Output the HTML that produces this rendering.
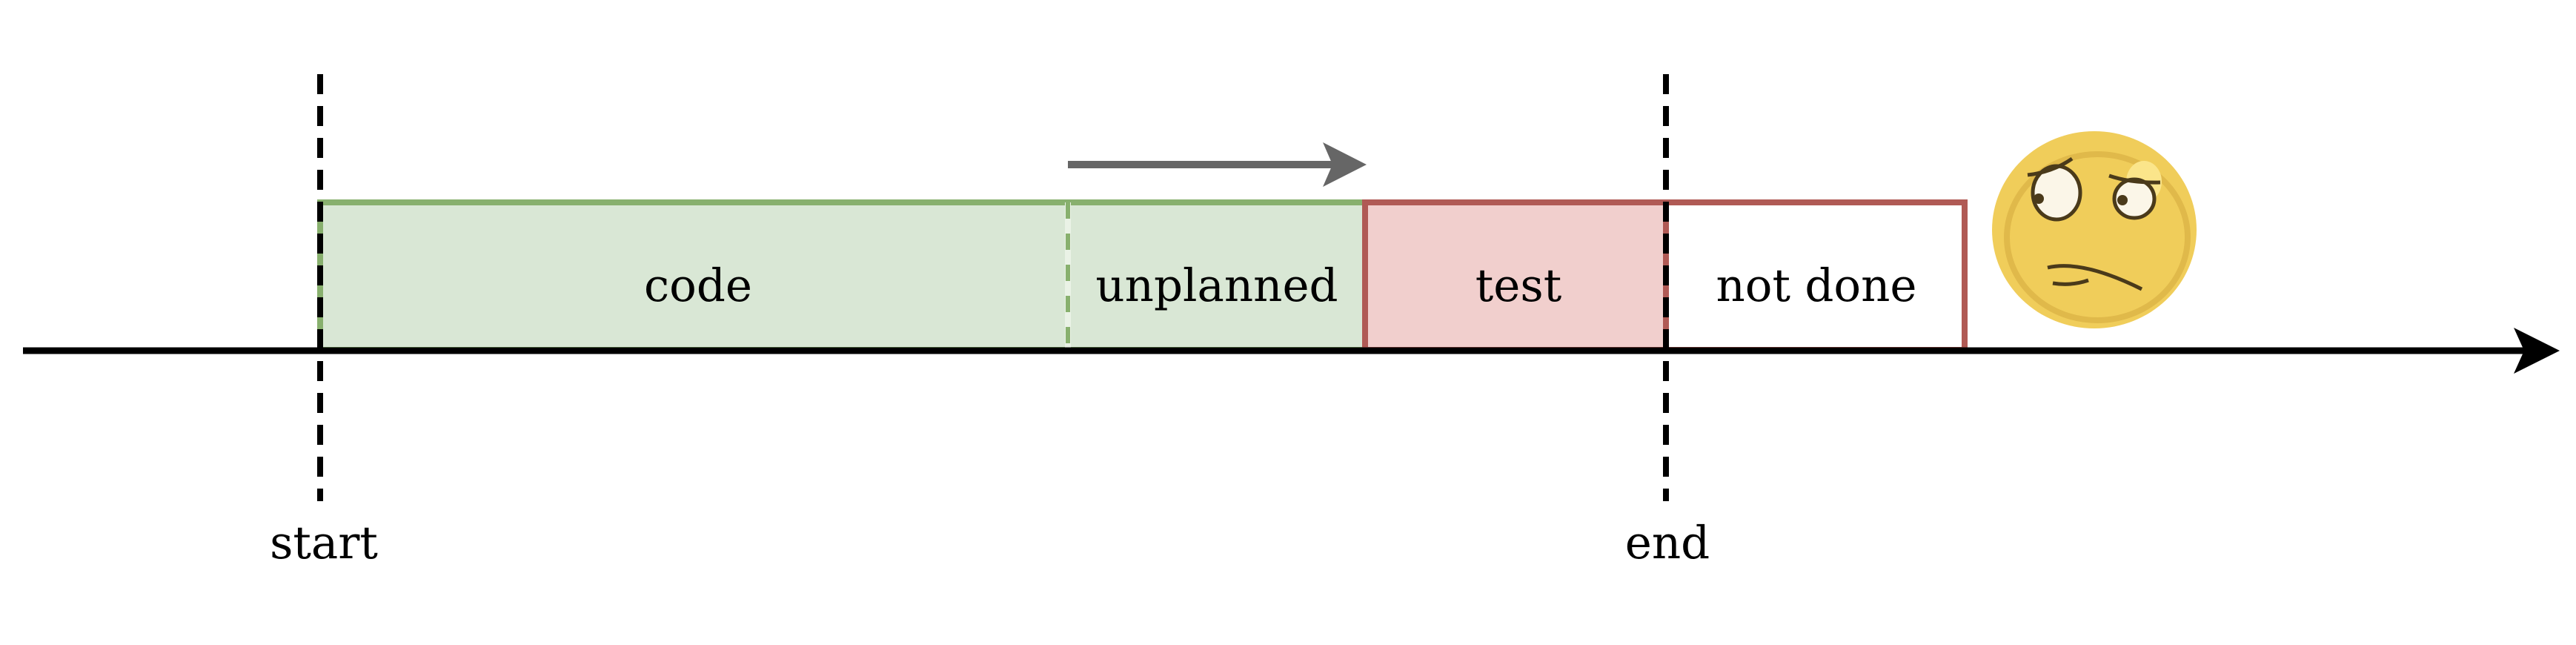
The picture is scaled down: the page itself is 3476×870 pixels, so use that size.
<!DOCTYPE html>
<html><head><meta charset="utf-8"><style>
html,body{margin:0;padding:0;background:#fff;}
svg{display:block;}
text{font-family:"DejaVu Serif","Liberation Serif",serif;font-size:61px;fill:#000;text-anchor:middle;}
</style></head><body>
<svg width="3476" height="870" viewBox="0 0 3476 870" xmlns="http://www.w3.org/2000/svg">
<rect x="432" y="273" width="1410" height="199" fill="#d9e7d5" stroke="#88b06e" stroke-width="8"/>
<line x1="1441" y1="273" x2="1441" y2="472" stroke="#eaf2e6" stroke-width="8"/>
<line x1="1441" y1="273" x2="1441" y2="472" stroke="#88b06e" stroke-width="6" stroke-dasharray="22 20"/>
<rect x="1842" y="273" width="406" height="199" fill="#f1cfcd" stroke="#b05a55" stroke-width="8"/>
<rect x="2248" y="273" width="403" height="199" fill="#fff" stroke="#b05a55" stroke-width="8"/>
<line x1="31" y1="473" x2="3410" y2="473" stroke="#000" stroke-width="9"/>
<polygon points="3454,473 3392,442 3406,473 3392,504" fill="#000"/>
<line x1="432" y1="100" x2="432" y2="676" stroke="#000" stroke-width="8" stroke-dasharray="27 16"/>
<line x1="2248" y1="100" x2="2248" y2="676" stroke="#000" stroke-width="8" stroke-dasharray="27 16"/>
<line x1="1441" y1="222" x2="1800" y2="222" stroke="#666" stroke-width="10"/>
<polygon points="1844,222 1785,192 1798,222 1785,252" fill="#666"/>
<text x="942" y="406">code</text>
<text x="1642" y="406">unplanned</text>
<text x="2049" y="406">test</text>
<text x="2451" y="406">not done</text>
<text x="437" y="753">start</text>
<text x="2250" y="753">end</text>
<g>
<ellipse cx="2826" cy="310" rx="138" ry="133" fill="#f0cd5a"/>
<ellipse cx="2830" cy="320" rx="122" ry="112" fill="none" stroke="#e0b94a" stroke-width="8"/>
<ellipse cx="2893" cy="245" rx="24" ry="28" fill="#fbe58a"/>
<ellipse cx="2775" cy="260" rx="32" ry="36" fill="#fbf6e8" stroke="#4a3a1a" stroke-width="5"/>
<ellipse cx="2880" cy="268" rx="27" ry="26" fill="#fbf6e8" stroke="#4a3a1a" stroke-width="5"/>
<circle cx="2751" cy="268" r="7" fill="#4a3a1a"/>
<circle cx="2864" cy="270" r="7" fill="#4a3a1a"/>
<path d="M2736 236 Q2770 232 2796 214" fill="none" stroke="#4a3a1a" stroke-width="5"/>
<path d="M2846 237 Q2875 247 2915 246" fill="none" stroke="#4a3a1a" stroke-width="5"/>
<path d="M2763 361 Q2810 350 2890 390" fill="none" stroke="#4a3a1a" stroke-width="5"/>
<path d="M2770 382 Q2795 386 2818 378" fill="none" stroke="#4a3a1a" stroke-width="5"/>
</g>
</svg>
</body></html>
